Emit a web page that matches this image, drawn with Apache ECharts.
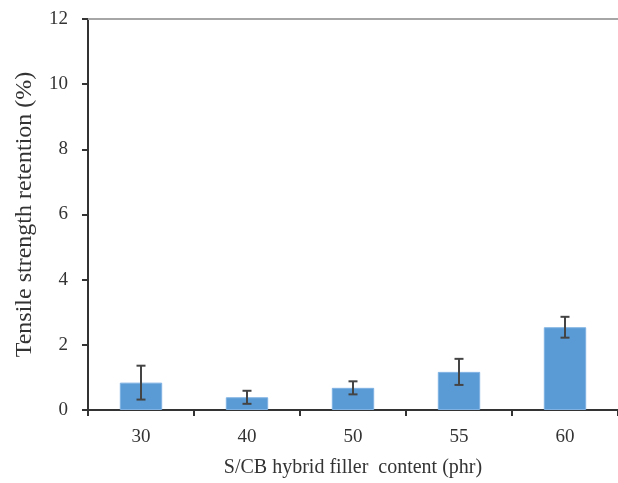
<!DOCTYPE html>
<html>
<head>
<meta charset="utf-8">
<script src="https://cdn.jsdelivr.net/npm/echarts@6/dist/echarts.min.js"></script>
<style>
  html, body { margin: 0; padding: 0; background: #fff; }
  #chart { width: 618px; height: 483px; }
</style>
</head>
<body>
<div id="chart"></div>
<script>
// 填料含量 (phr)
const categories = ['30', '40', '50', '55', '60'];
// 拉伸强度保持率 (%)
const retention = [0.84, 0.39, 0.68, 1.17, 2.54];
// 误差棒 (±)
const errors = [0.52, 0.2, 0.2, 0.4, 0.32];
const yTicks = [0, 2, 4, 6, 8, 10, 12];

const chart = echarts.init(document.getElementById('chart'));
const font = 'Liberation Serif';

const option = {
  animation: false,
  grid: { left: 88, right: 0, top: 19, bottom: 67 },
  xAxis: [
    {
      type: 'category',
      data: categories,
      name: 'S/CB hybrid filler  content (phr)',
      nameLocation: 'middle',
      nameGap: 48,
      nameTextStyle: { fontFamily: font, fontSize: 20, color: '#333' },
      axisLine: { lineStyle: { color: '#333', width: 2 } },
      axisTick: { show: true, length: 6, lineStyle: { color: '#333', width: 2 } },
      axisLabel: { fontFamily: font, fontSize: 19, color: '#333', margin: 18 }
    },
    {
      // 顶部边框
      type: 'category',
      position: 'top',
      data: categories,
      axisLine: { lineStyle: { color: '#a6a6a6', width: 2 } },
      axisTick: { show: false },
      axisLabel: { show: false }
    }
  ],
  yAxis: {
    type: 'value',
    min: yTicks[0],
    max: yTicks[yTicks.length - 1],
    interval: 2,
    name: 'Tensile strength retention (%)',
    nameLocation: 'middle',
    nameGap: 51,
    nameTextStyle: { fontFamily: font, fontSize: 24, color: '#333' },
    axisLine: { show: true, lineStyle: { color: '#333', width: 2 } },
    axisTick: { show: true, length: 6, lineStyle: { color: '#333', width: 2 } },
    axisLabel: { fontFamily: font, fontSize: 19, color: '#333', margin: 20 },
    splitLine: { show: false }
  },
  series: [
    {
      type: 'bar',
      data: retention,
      barWidth: '40%',
      itemStyle: { color: '#5b9bd5', borderColor: '#7fb2e3', borderWidth: 1 }
    },
    {
      type: 'custom',
      data: retention.map((v, i) => [i, v - errors[i], v + errors[i]]),
      z: 10,
      renderItem: function (params, api) {
        const lo = api.coord([api.value(0), api.value(1)]);
        const hi = api.coord([api.value(0), api.value(2)]);
        const w = 4.5;
        const style = { stroke: '#444', lineWidth: 2 };
        return {
          type: 'group',
          children: [
            { type: 'line', shape: { x1: hi[0], y1: hi[1], x2: lo[0], y2: lo[1] }, style: style },
            { type: 'line', shape: { x1: hi[0] - w, y1: hi[1], x2: hi[0] + w, y2: hi[1] }, style: style },
            { type: 'line', shape: { x1: lo[0] - w, y1: lo[1], x2: lo[0] + w, y2: lo[1] }, style: style }
          ]
        };
      }
    }
  ]
};
chart.setOption(option);
</script>
</body>
</html>
